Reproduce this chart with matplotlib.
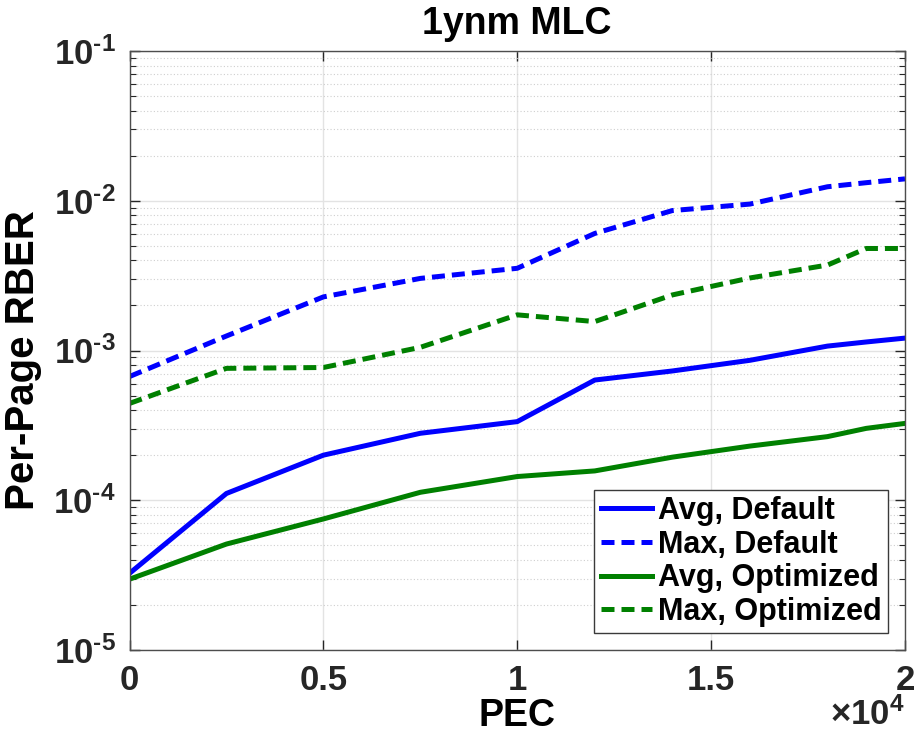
import matplotlib
matplotlib.use('Agg')
import matplotlib.pyplot as plt
from matplotlib.ticker import LogLocator, NullFormatter

plt.rcParams['font.family'] = ['Liberation Sans', 'DejaVu Sans']
plt.rcParams['font.weight'] = 'bold'
plt.rcParams['mathtext.fontset'] = 'custom'
plt.rcParams['mathtext.rm'] = 'Liberation Sans:bold'
plt.rcParams['mathtext.it'] = 'Liberation Sans:bold'
plt.rcParams['mathtext.bf'] = 'Liberation Sans:bold'

# PEC 数据点
pec = [0, 2500, 5000, 7500, 10000, 12000, 14000, 16000, 18000, 19000, 20000]

avg_default = [3.25e-5, 1.11e-4, 2.0e-4, 2.8e-4, 3.35e-4, 6.35e-4, 7.3e-4, 8.6e-4, 1.07e-3, 1.14e-3, 1.21e-3]
max_default = [6.7e-4, 1.25e-3, 2.28e-3, 3.03e-3, 3.54e-3, 6.05e-3, 8.6e-3, 9.5e-3, 1.24e-2, 1.32e-2, 1.40e-2]
avg_optimized = [2.97e-5, 5.1e-5, 7.5e-5, 1.13e-4, 1.44e-4, 1.57e-4, 1.94e-4, 2.3e-4, 2.66e-4, 3.02e-4, 3.26e-4]
max_optimized = [4.43e-4, 7.6e-4, 7.7e-4, 1.05e-3, 1.73e-3, 1.56e-3, 2.35e-3, 3.05e-3, 3.72e-3, 4.8e-3, 4.8e-3]

labels = ['Avg, Default', 'Max, Default', 'Avg, Optimized', 'Max, Optimized']

xtick_vals = [0, 5000, 10000, 15000, 20000]
xtick_labels = ['0', '0.5', '1', '1.5', '2']
ytick_vals = [1e-5, 1e-4, 1e-3, 1e-2, 1e-1]
ytick_labels = [r'$\mathrm{10^{‐5}}$', r'$\mathrm{10^{‐4}}$', r'$\mathrm{10^{‐3}}$',
                r'$\mathrm{10^{‐2}}$', r'$\mathrm{10^{‐1}}$']

fig = plt.figure(figsize=(9.17, 7.34), dpi=100)
ax = fig.add_axes([129.5 / 917, 1 - 650 / 734, (905 - 129.5) / 917, (650 - 51) / 734])

blue = (0, 0, 1)
green = (0, 0.5, 0)
lw = 3.6
dash = (2.6, 1.4)

ax.plot(pec, avg_default, color=blue, lw=lw, label=labels[0])
ax.plot(pec, max_default, color=blue, lw=lw, dashes=dash, label=labels[1])
ax.plot(pec, avg_optimized, color=green, lw=lw, label=labels[2])
ax.plot(pec, max_optimized, color=green, lw=lw, dashes=dash, label=labels[3])

ax.set_yscale('log')
ax.set_xlim(0, 20000)
ax.set_ylim(1e-5, 1e-1)

ax.set_xticks(xtick_vals)
ax.set_xticklabels(xtick_labels)
ax.set_yticks(ytick_vals)
ax.set_yticklabels(ytick_labels)
ax.yaxis.set_minor_locator(LogLocator(base=10, subs=range(2, 10), numticks=20))
ax.yaxis.set_minor_formatter(NullFormatter())

txt_col = '#262626'
ax.tick_params(axis='both', which='major', direction='in', length=7, width=1,
               labelsize=25, colors=txt_col, top=True, right=True, pad=10)
ax.tick_params(axis='y', which='minor', direction='in', length=4, width=0.8,
               colors=txt_col, right=True)
for lab in ax.get_xticklabels() + ax.get_yticklabels():
    lab.set_fontweight('bold')

for s in ax.spines.values():
    s.set_color('#4d4d4d')
    s.set_linewidth(1)

ax.grid(True, which='major', color='#e3e3e3', linestyle='-', linewidth=1)
ax.grid(True, which='minor', axis='y', color='#cfcfcf', linestyle=(0, (1, 2)), linewidth=0.8)
ax.set_axisbelow(True)

ax.set_title('1ynm MLC', fontsize=27, fontweight='bold', color='black', pad=12)
ax.set_xlabel('PEC', fontsize=27, fontweight='bold', color='black', labelpad=1)
ax.set_ylabel('Per-Page RBER', fontsize=29, fontweight='bold', color='black')
ax.yaxis.set_label_coords(-0.113, 0.484)

# MATLAB 风格的 ×10^4 因子，放在右下角
fig.text(905 / 917, 9 / 734, r'$\times\mathrm{10^{4}}$', ha='right', va='baseline',
         fontsize=25, color=txt_col)

leg = ax.legend(loc='lower right', fontsize=22, frameon=True, fancybox=False,
                edgecolor='#3a3a3a', framealpha=1, handlelength=1.67, handletextpad=0.22,
                borderpad=0.2, labelspacing=0.12, borderaxespad=0.55)
leg.get_frame().set_linewidth(1)
for t in leg.get_texts():
    t.set_fontweight('bold')

fig.savefig('out.png', dpi=100)
